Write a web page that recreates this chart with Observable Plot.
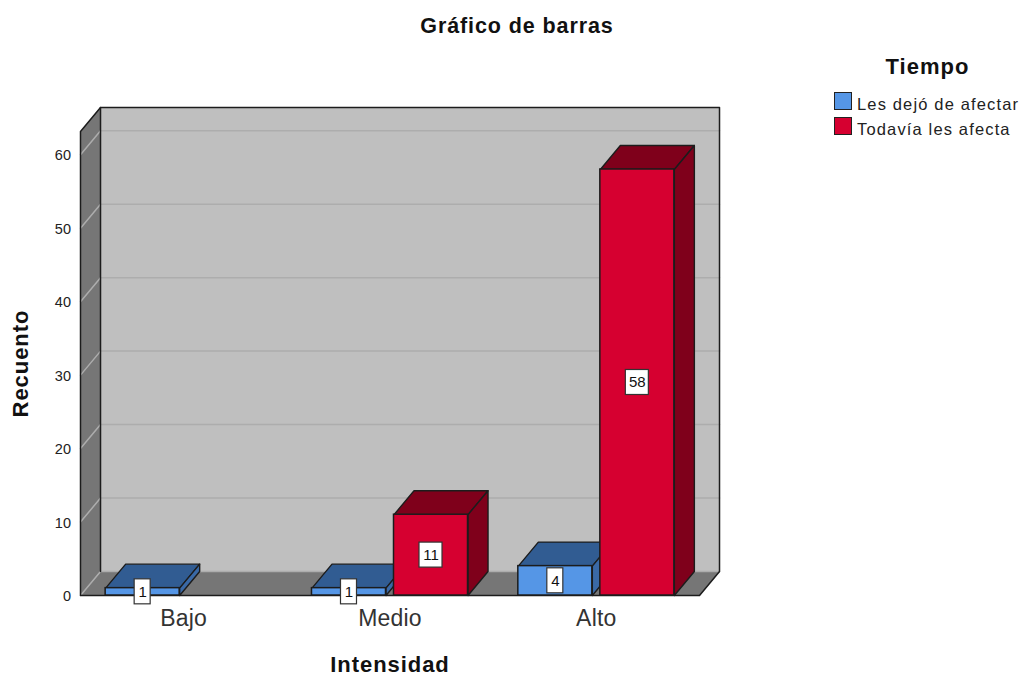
<!DOCTYPE html>
<html lang="es">
<head>
<meta charset="utf-8">
<script src="https://cdn.jsdelivr.net/npm/d3@7"></script>
<script src="https://cdn.jsdelivr.net/npm/@observablehq/plot@0.6"></script>
<style>
  html, body { margin: 0; background: #fff; }
  #wrap { position: relative; width: 1023px; height: 677px; overflow: hidden; font-family: "Liberation Sans", Arial, sans-serif; color: #111; }
  #wrap svg { display: block; position: absolute; left: 0; top: 0; font-family: "Liberation Sans", Arial, sans-serif; }
  #title { position: absolute; left: 0; width: 1034px; top: 13px; text-align: center; font-weight: bold; font-size: 21.5px; line-height: 26px; letter-spacing: .9px; }
  #legendTitle { position: absolute; left: 834px; width: 187px; top: 54px; text-align: center; font-weight: bold; font-size: 22px; line-height: 26px; letter-spacing: 1px; }
  .row { position: absolute; left: 834px; height: 19px; white-space: nowrap; }
  .sw { position: absolute; left: 0; top: 0; width: 16px; height: 16px; border: 1.5px solid #222; }
  .lb { position: absolute; left: 23px; top: 2px; font-size: 16.5px; line-height: 20px; letter-spacing: 1.15px; color: #222; }
  .axisTitle { letter-spacing: .95px; }
  .catTick { letter-spacing: .2px; }
</style>
</head>
<body>
<div id="wrap"></div>
<script>
const categories = ["Bajo", "Medio", "Alto"];
const seriesNames = ["Les dejó de afectar", "Todavía les afecta"];
const dejoValues = [1, 1, 4];
const todaviaValues = [null, 11, 58];
const yTicks = [0, 10, 20, 30, 40, 50, 60];

const frontColors = ["#5596e6", "#d60030"];
const topColors = ["#315c92", "#7f001b"];
const sideColors = ["#3a69a6", "#7f001b"];
const seriesValues = [dejoValues, todaviaValues];

// Scale extents and the constant oblique offset of the 3D box, in data units.
const xMin = -0.5, xMax = 2.5, yMax = 63.17;
const depthX = 0.097, depthY = 3.27;
const barW = 0.3587, barGap = 0.0388;

const poly = (id, pts, fill) => [...pts, pts[0]].map(([x, y]) => ({id, x, y, fill}));

function barGeometry(s) {
  return seriesValues[s].flatMap((v, i) => {
    if (v == null) return [];
    const x1 = s === 0 ? i - barGap / 2 - barW : i + barGap / 2;
    return [{i, s, v, x1, x2: x1 + barW, xc: x1 + barW / 2}];
  });
}
const faces = s => barGeometry(s).flatMap(b => [
  ...poly(`t${s}${b.i}`, [[b.x1, b.v], [b.x2, b.v], [b.x2 + depthX, b.v + depthY], [b.x1 + depthX, b.v + depthY]], topColors[s]),
  ...poly(`s${s}${b.i}`, [[b.x2, 0], [b.x2 + depthX, depthY], [b.x2 + depthX, b.v + depthY], [b.x2, b.v]], sideColors[s])
]);

const walls = [
  ...poly("back", [[xMin + depthX, depthY], [xMax + depthX, depthY], [xMax + depthX, yMax + depthY], [xMin + depthX, yMax + depthY]], "#bfbfbf"),
  ...poly("left", [[xMin, 0], [xMin + depthX, depthY], [xMin + depthX, yMax + depthY], [xMin, yMax]], "#767676"),
  ...poly("floor", [[xMin, 0], [xMax, 0], [xMax + depthX, depthY], [xMin + depthX, depthY]], "#767676")
];
const grid = yTicks.flatMap(v => [
  {v, x: xMin, y: v},
  {v, x: xMin + depthX, y: v + depthY},
  {v, x: xMax + depthX, y: v + depthY}
]);
const outline = [
  [[xMin, 0], [xMin, yMax], [xMin + depthX, yMax + depthY], [xMax + depthX, yMax + depthY], [xMax + depthX, depthY], [xMax, 0], [xMin, 0]],
  [[xMin + depthX, depthY], [xMin + depthX, yMax + depthY]]
].flatMap((pts, k) => pts.map(([x, y]) => ({k, x, y})));

const ink = "#1c1c1c";
const barMarks = [0, 1].flatMap(s => [
  Plot.line(faces(s), {x: "x", y: "y", z: "id", fill: "fill", stroke: ink, strokeWidth: 1.4, strokeLinejoin: "round", curve: "linear"}),
  Plot.rect(barGeometry(s), {x1: "x1", x2: "x2", y1: 0, y2: "v", fill: frontColors[s], stroke: ink, strokeWidth: 1.5})
]);

const labels = [0, 1].flatMap(s => barGeometry(s));
const halfBox = d => (String(d.v).length > 1 ? 11.5 : 8) / 206.33;
const halfBoxY = 12.5 / 7.345;

const chart = Plot.plot({
  width: 1023,
  height: 677,
  marginLeft: 80,
  marginRight: 324,
  marginTop: 131,
  marginBottom: 82,
  style: {background: "transparent", overflow: "visible"},
  x: {type: "linear", domain: [xMin, xMax]},
  y: {domain: [0, yMax]},
  marks: [
    Plot.line(walls, {x: "x", y: "y", z: "id", fill: "fill", stroke: "none", curve: "linear"}),
    Plot.line(grid, {x: "x", y: "y", z: "v", stroke: "#adadad", strokeWidth: 1.5, curve: "linear"}),
    Plot.line(outline, {x: "x", y: "y", z: "k", stroke: ink, strokeWidth: 1.5, curve: "linear"}),
    ...barMarks,
    Plot.rect(labels, {
      x1: d => d.xc - halfBox(d), x2: d => d.xc + halfBox(d),
      y1: d => d.v / 2 - halfBoxY, y2: d => d.v / 2 + halfBoxY,
      fill: "#fff", stroke: "#333", strokeWidth: 1.2
    }),
    Plot.text(labels, {x: "xc", y: d => d.v / 2, text: d => String(d.v), fontSize: 15, fill: "#111"}),
    Plot.axisX({
      ticks: categories.map((_, i) => i), tickFormat: i => categories[i],
      tickSize: 0, tickPadding: 14, fontSize: 23, label: null, fill: "#333", className: "catTick"
    }),
    Plot.axisY({ticks: yTicks, tickSize: 0, tickPadding: 9.5, fontSize: 14.5, label: null, fill: "#222", dy: 1}),
    Plot.text(["Intensidad"], {frameAnchor: "bottom", dy: 76, fontSize: 22, fontWeight: "bold", fill: "#111", className: "axisTitle"}),
    Plot.text(["Recuento"], {frameAnchor: "left", textAnchor: "middle", dx: -60, rotate: -90, fontSize: 22, fontWeight: "bold", fill: "#111", className: "axisTitle"})
  ]
});

const wrap = document.getElementById("wrap");
wrap.appendChild(chart);

const addDiv = (id, txt) => {
  const d = document.createElement("div");
  d.id = id; d.textContent = txt; wrap.appendChild(d);
};
addDiv("title", "Gráfico de barras");
addDiv("legendTitle", "Tiempo");
seriesNames.forEach((name, i) => {
  const r = document.createElement("div");
  r.className = "row";
  r.style.top = (92 + i * 25) + "px";
  const sw = document.createElement("div");
  sw.className = "sw"; sw.style.background = frontColors[i];
  const lb = document.createElement("div");
  lb.className = "lb"; lb.textContent = name;
  r.append(sw, lb);
  wrap.appendChild(r);
});
</script>
</body>
</html>
